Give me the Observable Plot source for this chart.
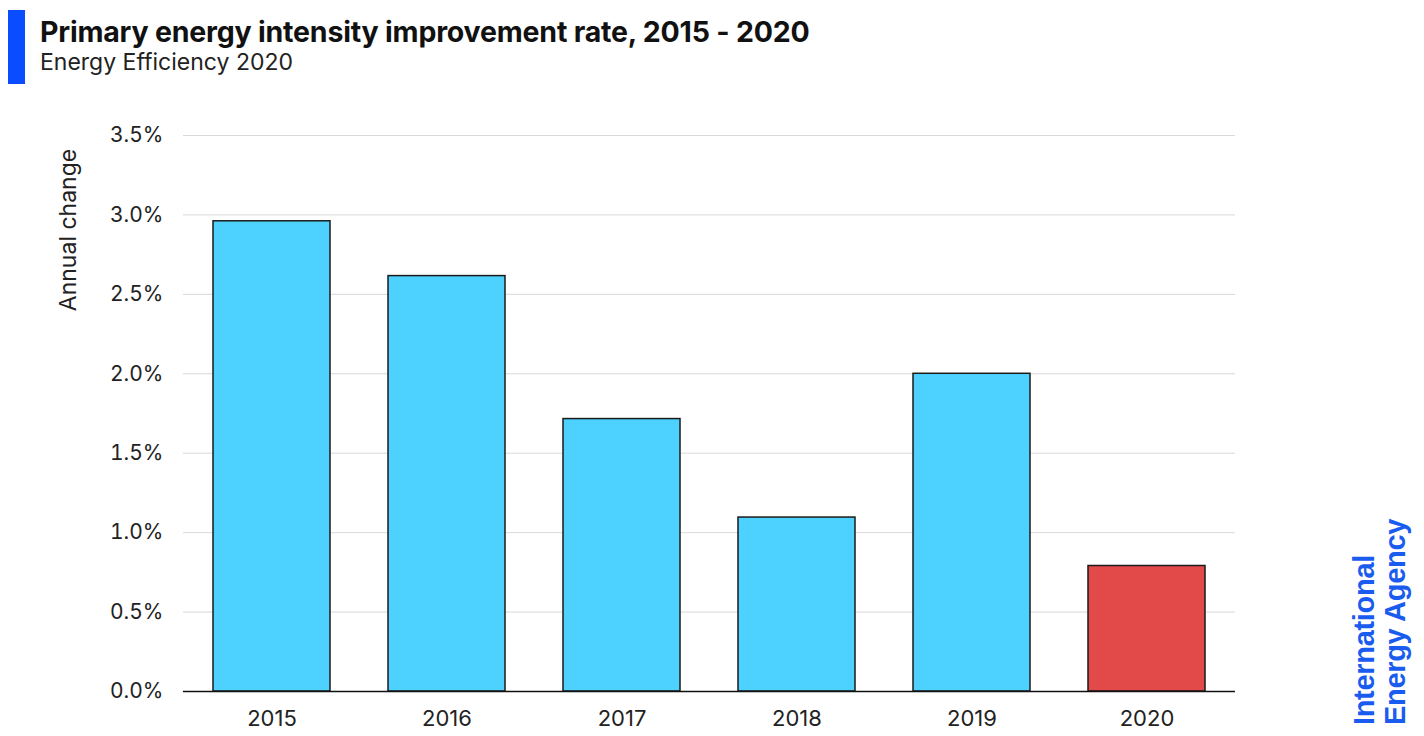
<!DOCTYPE html>
<html>
<head>
<meta charset="utf-8">
<script src="https://cdn.jsdelivr.net/npm/d3@7"></script>
<script src="https://cdn.jsdelivr.net/npm/@observablehq/plot@0.6"></script>
<style>
  html, body { margin: 0; padding: 0; background: #fff; width: 1424px; height: 736px; overflow: hidden; font-family: Inter, "Open Sans", sans-serif; }
  #wrap { position: relative; width: 1424px; height: 736px; }
  #header { position: relative; height: 100px; }
  #bar { position: absolute; left: 8px; top: 10px; width: 17px; height: 74px; background: #0a4cff; }
  #title { position: absolute; left: 40px; top: 14px; font-size: 28.5px; font-weight: 700; color: #111; letter-spacing: -0.2px; white-space: nowrap; }
  #subtitle { position: absolute; left: 40px; top: 48px; font-size: 23px; font-weight: 400; color: #222; white-space: nowrap; }
  #ylabel { position: absolute; left: 68px; top: 230px; transform: translate(-50%, -50%) rotate(-90deg); font-size: 23px; color: #222; white-space: nowrap; }
  #logo { position: absolute; left: 1380px; top: 622px; transform: translate(-50%, -50%) rotate(-90deg); font-size: 29px; font-weight: 700; color: #1a5cf0; line-height: 31px; white-space: nowrap; font-family: "Liberation Sans", Arial, sans-serif; letter-spacing: -0.3px; }
</style>
</head>
<body>
<div id="wrap">
  <div id="header">
    <div id="bar"></div>
    <div id="title">Primary energy intensity improvement rate, 2015 - 2020</div>
    <div id="subtitle">Energy Efficiency 2020</div>
  </div>
  <div id="chart"></div>
  <div id="ylabel">Annual change</div>
  <div id="logo">International<br>Energy Agency</div>
</div>
<script>
const years = ["2015", "2016", "2017", "2018", "2019", "2020"];
const values = [2.96, 2.615, 1.715, 1.095, 2.0, 0.79];
const colors = ["#4dd2ff", "#4dd2ff", "#4dd2ff", "#4dd2ff", "#4dd2ff", "#e24a4a"];
const yTicks = [0, 0.5, 1.0, 1.5, 2.0, 2.5, 3.0, 3.5];

const data = years.map((year, i) => ({year, value: values[i], color: colors[i]}));

const chart = Plot.plot({
  width: 1424,
  height: 636,
  marginTop: 35,
  marginBottom: 45,
  marginLeft: 183,
  marginRight: 189,
  style: {fontFamily: "Inter, 'Open Sans', sans-serif", fontSize: "21px", color: "#222", background: "#fff"},
  x: {domain: years, paddingInner: 0.333, paddingOuter: 0.1667, label: null},
  y: {domain: [0, 3.5], label: null},
  marks: [
    Plot.gridY(yTicks, {stroke: "#d9d9d9", strokeOpacity: 1, strokeWidth: 1}),
    Plot.axisY(yTicks, {tickSize: 0, tickPadding: 20, tickFormat: d => d.toFixed(1) + "%", label: null, fontSize: 21}),
    Plot.axisX({tickSize: 0, tickPadding: 19, label: null, fontSize: 22}),
    Plot.barY(data, {x: "year", y: "value", fill: "color", stroke: "#1a1a1a", strokeWidth: 1.5}),
    Plot.ruleY([0], {stroke: "#111", strokeWidth: 1.5})
  ]
});
document.getElementById("chart").appendChild(chart);
</script>
</body>
</html>
